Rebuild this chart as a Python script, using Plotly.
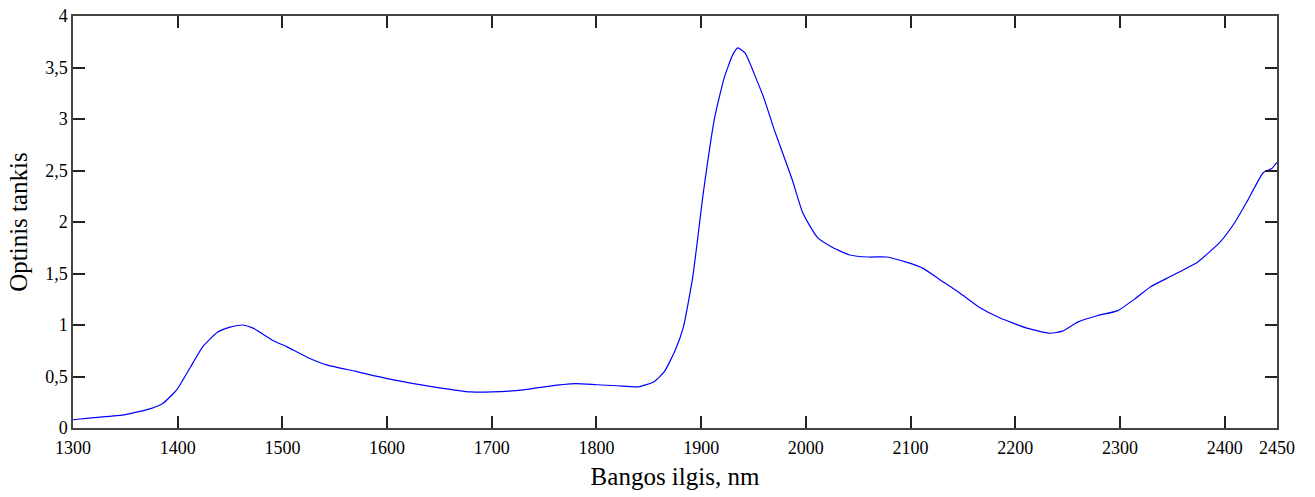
import plotly.graph_objects as go

# wavelength (nm) and optical density
wavelength = [1300, 1320, 1350, 1375, 1386, 1399, 1415, 1424, 1438, 1450, 1462, 1472,
              1491, 1504, 1523, 1543, 1570, 1600, 1650, 1680, 1700, 1730, 1750, 1780,
              1800, 1820, 1840, 1855, 1865, 1875, 1883, 1892, 1902, 1913, 1922, 1930,
              1935, 1942, 1953, 1960, 1970, 1987, 1997, 2011, 2026, 2042, 2060, 2077,
              2096, 2112, 2128, 2147, 2166, 2185, 2211, 2233, 2245, 2260, 2278, 2298,
              2315, 2329, 2350, 2374, 2396, 2410, 2422, 2437, 2445, 2450]
density = [0.08, 0.10, 0.13, 0.19, 0.24, 0.37, 0.64, 0.79, 0.93, 0.98, 1.00, 0.97,
           0.85, 0.79, 0.69, 0.61, 0.55, 0.48, 0.39, 0.35, 0.35, 0.37, 0.40, 0.43,
           0.42, 0.41, 0.40, 0.45, 0.55, 0.75, 0.98, 1.47, 2.28, 3.02, 3.40, 3.62,
           3.69, 3.64, 3.38, 3.20, 2.89, 2.41, 2.09, 1.85, 1.75, 1.68, 1.66, 1.66,
           1.61, 1.55, 1.44, 1.31, 1.17, 1.07, 0.97, 0.92, 0.94, 1.03, 1.09, 1.14,
           1.26, 1.37, 1.48, 1.61, 1.81, 2.00, 2.21, 2.48, 2.52, 2.58]

x_ticks = [1300, 1400, 1500, 1600, 1700, 1800, 1900, 2000, 2100, 2200, 2300, 2400, 2450]
y_ticks = [0, 0.5, 1, 1.5, 2, 2.5, 3, 3.5, 4]
y_labels = ["0", "0,5", "1", "1,5", "2", "2,5", "3", "3,5", "4"]

fig = go.Figure()
fig.add_trace(go.Scatter(x=wavelength, y=density, mode="lines",
                         line=dict(color="#0000ff", width=1.2, shape="spline", smoothing=0.5)))

axis_style = dict(showline=True, linecolor="#444444", linewidth=1.5, mirror="allticks",
                  ticks="inside", ticklen=12, tickwidth=1.5, tickcolor="#222222",
                  showgrid=False, zeroline=False, automargin=False,
                  ticklabeloverflow="allow",
                  tickfont=dict(family="Liberation Serif", size=18, color="black"))

fig.update_xaxes(range=[1300, 2450], tickvals=x_ticks, ticktext=[str(t) for t in x_ticks],
                 ticklabelstandoff=3,
                 title=dict(text="Bangos ilgis, nm", font=dict(family="Liberation Serif", size=25, color="black"),
                            standoff=10),
                 **axis_style)
fig.update_yaxes(range=[0, 4], tickvals=y_ticks, ticktext=y_labels,
                 title=dict(text="Optinis tankis", font=dict(family="Liberation Serif", size=25, color="black"),
                            standoff=10),
                 **axis_style)

fig.update_layout(width=1315, height=497, showlegend=False,
                  paper_bgcolor="white", plot_bgcolor="white",
                  margin=dict(l=73, r=38, t=16, b=69))

# drop the browser's default 8px body margin so the figure fills the window
fig.write_html("out.html", config={"displayModeBar": False},
               post_script="document.body.style.margin='0px';")
